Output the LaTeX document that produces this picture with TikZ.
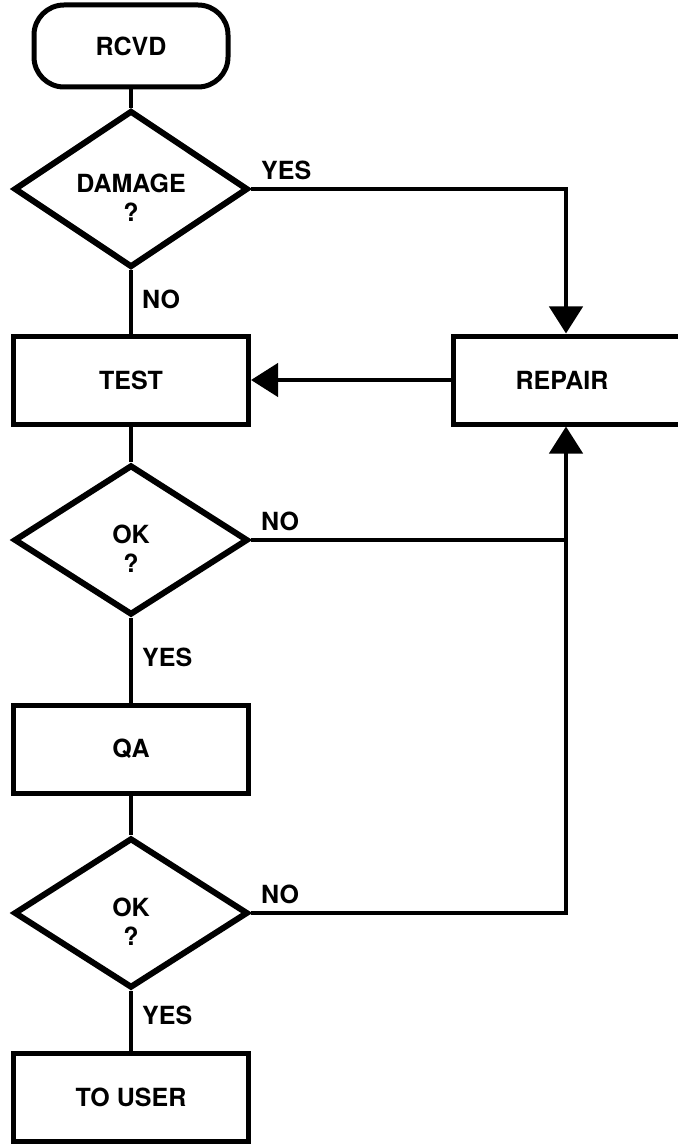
\documentclass[tikz,border=0pt]{standalone}
\usepackage{fontspec}
\setsansfont{TeX Gyre Heros}
\usetikzlibrary{arrows.meta,shapes.geometric}
\newcommand{\dn}[1]{\raisebox{-4.5pt}[\height][\depth]{#1}}
\tikzset{
  proc/.style ={draw, line width=2.5pt, minimum width=117.5pt,
                minimum height=44pt, inner sep=0pt,
                font=\sffamily\bfseries\fontsize{12.5}{15}\selectfont},
  term/.style ={proc, rounded corners=15pt, minimum width=97pt,
                minimum height=41pt},
  dec/.style  ={draw, diamond, line width=3pt, minimum width=117pt,
                minimum height=75pt, inner sep=0pt, align=center,
                font=\sffamily\bfseries\fontsize{12.5}{14.5}\selectfont},
  flow/.style ={line width=2.2pt},
  ar/.style   ={flow, -{Triangle[length=13.5pt,width=16.5pt]}},
  tag/.style  ={font=\sffamily\bfseries\fontsize{12.5}{15}\selectfont,
                inner sep=0pt}
}
\begin{document}
\begin{tikzpicture}[x=0.5pt,y=-0.5pt]
\useasboundingbox (0,0) rectangle (678,1144);

\node[term] (rcvd)   at (131,46)   {RCVD};
\node[dec]  (damage) at (131,189)  {\dn{DAMAGE}\\\dn{?}};
\node[proc] (test)   at (131,380)  {TEST};
\node[proc, minimum width=130pt] (repair) at (583,380)
  {\hspace*{-21pt}REPAIR};
\node[dec]  (okt)    at (131,540)  {\dn{OK}\\\dn{?}};
\node[proc] (qa)     at (131,749)  {QA};
\node[dec]  (okq)    at (131,913)  {\dn{OK}\\\dn{?}};
\node[proc] (user)   at (131,1097) {TO USER};
\coordinate (bus) at (566,0);

\draw[flow] (rcvd) -- (damage);
\draw[flow] (damage) -- (test)
  node[tag, midway, anchor=west, xshift=4.5pt, yshift=1.5pt] {NO};
\draw[ar] (damage.east) node[tag, anchor=south west, xshift=4pt, yshift=3.5pt] {YES}
  -- (damage.east -| bus) -- (repair.north -| bus);
\draw[ar] (repair) -- (test);

\draw[flow] (test) -- (okt);
\draw[flow] (okt.east) node[tag, anchor=south west, xshift=4pt, yshift=3.5pt] {NO}
  -- (okt.east -| bus);
\draw[flow] (okt) -- (qa)
  node[tag, midway, anchor=west, xshift=4.5pt, yshift=1.5pt] {YES};

\draw[flow] (qa) -- (okq);
\draw[ar] (okq.east) node[tag, anchor=south west, xshift=4pt, yshift=3.5pt] {NO}
  -- (okq.east -| bus) -- (repair.south -| bus);
\draw[flow] (okq) -- (user)
  node[tag, midway, anchor=west, xshift=4.5pt, yshift=2.5pt] {YES};
\end{tikzpicture}
\end{document}
